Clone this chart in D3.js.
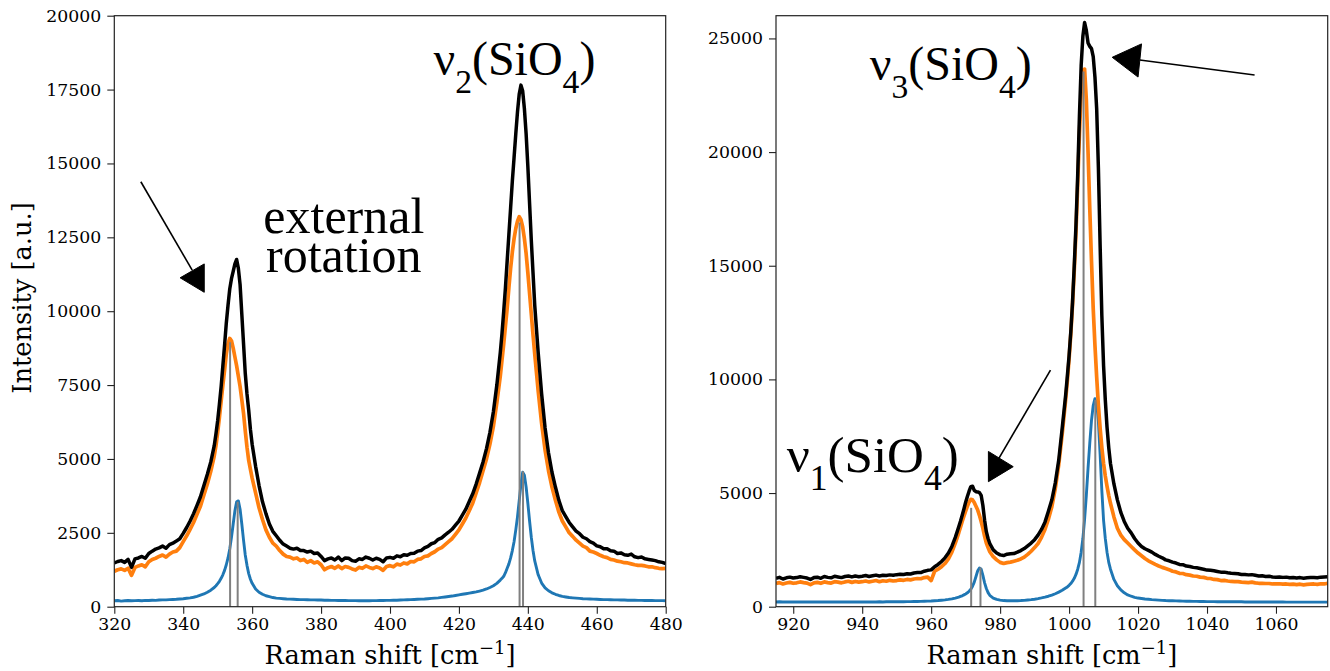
<!DOCTYPE html>
<html><head><meta charset="utf-8">
<script src="https://cdn.jsdelivr.net/npm/d3@7"></script>
<style>
html,body{margin:0;padding:0;background:#fff;}
svg{display:block;}
text{fill:#000;}
</style></head>
<body>
<svg id="chart" width="1330" height="671"></svg>
<script>
// ---------------- LEFT PANEL DATA (Raman shift cm^-1, intensity a.u.) ----------------
const leftX = [320,321,322,323,324,325,326,327,328,329,330,331,332,333,334,335,336,337,338,339,340,341,342,343,344,345,346,347,348,349,349.5,350,350.5,351,351.5,352,352.5,353,353.5,354,354.5,355,355.5,356,356.5,357,357.5,358,358.5,359,359.5,360,361,362,363,364,365,366,367,368,369,370,371,372,373,374,375,376,377,378,379,380,381,382,383,384,385,386,387,388,389,390,391,392,393,394,395,396,397,398,399,400,401,402,403,404,405,406,407,408,409,410,411,412,413,414,415,416,417,418,419,420,421,422,423,424,425,426,427,428,429,430,431,432,432.5,433,433.5,434,434.5,435,435.5,436,436.5,437,437.5,438,438.5,439,439.5,440,440.5,441,441.5,442,443,444,445,446,447,448,449,450,451,452,453,454,455,456,457,458,459,460,461,462,463,464,465,466,467,468,469,470,471,472,473,474,475,476,477,478,479,480];
const leftOrange = [1200,1250,1280,1230,1300,1060,1330,1380,1420,1350,1520,1600,1640,1700,1750,1680,1780,1850,1880,2000,2200,2400,2620,2850,3130,3400,3780,4150,4580,5100,5450,5900,6400,6950,7500,8000,8550,8900,9080,9000,8750,8450,8150,7800,7450,7000,6550,5950,5400,4950,4650,4350,3850,3350,2950,2600,2350,2150,2050,1900,1780,1700,1680,1620,1650,1560,1600,1500,1560,1480,1520,1420,1250,1320,1360,1300,1380,1290,1360,1330,1280,1240,1330,1300,1380,1330,1290,1350,1310,1230,1360,1390,1350,1440,1410,1480,1450,1530,1520,1600,1620,1700,1720,1800,1860,1950,2000,2100,2200,2300,2450,2600,2800,3000,3250,3500,3850,4200,4600,5000,5500,6100,6900,7800,8350,8900,9500,10100,10800,11450,12000,12450,12800,13050,13200,13100,12850,12450,11950,11300,10600,9900,9200,8550,7300,6200,5300,4600,4050,3600,3200,2900,2700,2500,2380,2250,2150,2050,2000,1880,1850,1800,1740,1690,1660,1600,1580,1540,1520,1490,1480,1450,1420,1400,1400,1380,1350,1350,1320,1300,1290,1300];
const leftBlack = [1480,1530,1560,1500,1600,1330,1620,1650,1700,1640,1800,1880,1950,1990,2050,1980,2100,2150,2220,2300,2480,2680,2900,3150,3430,3720,4100,4480,4900,5450,5850,6300,6850,7450,8150,8850,9600,10200,10750,11100,11350,11600,11750,11450,10900,9900,8900,7900,7200,6650,6000,5500,4750,4100,3550,3150,2800,2550,2400,2250,2120,2050,1980,1950,1980,1900,1900,1850,1880,1800,1820,1700,1560,1620,1650,1580,1680,1560,1650,1640,1560,1540,1620,1600,1680,1640,1580,1640,1600,1520,1650,1670,1640,1720,1690,1760,1740,1800,1810,1880,1900,1990,2040,2130,2170,2280,2330,2430,2520,2620,2760,2900,3100,3300,3560,3820,4150,4520,4900,5350,5900,6600,7500,8600,9250,10000,10800,11700,12600,13500,14400,15200,16000,16750,17350,17650,17450,16850,16000,14900,13650,12400,11300,10200,8600,7200,6050,5200,4550,4050,3600,3250,3050,2850,2700,2560,2470,2350,2300,2200,2150,2060,2030,1960,1960,1890,1880,1800,1820,1760,1740,1780,1690,1660,1680,1620,1600,1580,1560,1520,1500,1460];
const leftBlue = [200,210,190,200,210,200,205,210,200,215,210,220,215,225,230,230,240,245,250,260,270,285,300,320,350,390,430,490,560,650,710,780,860,960,1080,1230,1420,1650,1950,2350,2800,3250,3550,3580,3300,2800,2250,1750,1400,1120,930,790,600,490,420,370,340,310,290,280,270,260,255,250,245,240,240,235,230,230,225,225,220,220,215,215,210,210,210,205,205,205,200,200,205,200,205,205,210,210,215,215,220,220,225,230,235,240,245,250,255,260,270,280,290,300,315,330,345,360,380,400,420,440,460,480,500,530,560,600,650,710,790,900,960,1030,1150,1300,1450,1650,1900,2200,2600,3050,3600,4150,4550,4450,4050,3500,2900,2350,1900,1550,1080,800,640,540,470,420,380,350,330,310,300,290,280,270,265,260,255,250,245,240,240,235,230,230,225,225,220,220,220,215,215,210,210,210,205,205,205,200];
const leftPeakPos = [353.6, 355.8, 437.6, 438.6];
const leftPeakHeight = [8950, 3550, 13000, 4580];
const leftYTicks = [0,2500,5000,7500,10000,12500,15000,17500,20000];
const leftXTicks = [320,340,360,380,400,420,440,460,480];

// ---------------- RIGHT PANEL DATA ----------------
const rightX = [915,916,917,918,919,920,921,922,923,924,925,926,927,928,929,930,931,932,933,934,935,936,937,938,939,940,941,942,943,944,945,946,947,948,949,950,951,952,953,954,955,956,957,958,959,960,961,962,963,964,965,966,967,967.5,968,968.5,969,969.5,970,970.5,971,971.5,972,972.5,973,973.5,974,974.5,975,975.5,976,976.5,977,978,979,980,981,982,983,984,985,986,987,988,989,990,991,992,993,994,995,996,997,998,999,999.5,1000,1000.5,1001,1001.5,1002,1002.5,1003,1003.5,1004,1004.5,1005,1005.5,1006,1006.5,1007,1007.5,1008,1008.5,1009,1009.5,1010,1010.5,1011,1011.5,1012,1013,1014,1015,1016,1017,1018,1019,1020,1021,1022,1023,1024,1025,1026,1027,1028,1029,1030,1031,1032,1033,1034,1035,1036,1037,1038,1039,1040,1041,1042,1043,1044,1045,1046,1047,1048,1049,1050,1051,1052,1053,1054,1055,1056,1057,1058,1059,1060,1061,1062,1063,1064,1065,1066,1067,1068,1069,1070,1071,1072,1073,1074,1075];
const rightOrange = [1020,1060,1000,1040,1070,1030,1050,1090,1060,1040,970,1050,1070,1030,1090,1060,1040,1100,1080,1050,1090,1120,1070,1110,1080,1100,1130,1090,1120,1150,1100,1140,1120,1160,1130,1150,1180,1160,1200,1180,1220,1240,1230,1280,1300,1150,1560,1650,1760,1900,2100,2400,2800,3020,3250,3500,3750,3980,4200,4420,4600,4720,4700,4580,4420,4250,4020,3750,3450,3100,2800,2600,2420,2200,2060,1950,1900,1940,1960,2000,2040,2100,2180,2300,2440,2600,2780,3050,3400,3850,4400,5200,6250,7600,9100,9950,10900,12000,13300,14800,16500,18600,20800,22600,23600,23650,22300,20000,17500,15200,13100,11500,10100,8850,7850,7000,6300,5750,5300,4900,4550,3950,3450,3150,2950,2800,2650,2500,2360,2240,2120,2020,1940,1860,1790,1730,1680,1630,1560,1530,1470,1460,1410,1390,1350,1340,1300,1290,1250,1240,1200,1190,1150,1160,1130,1110,1100,1100,1080,1070,1060,1080,1050,1030,1030,1020,1020,1000,1000,1010,990,1000,980,990,970,990,960,980,990,1000,980,1010,1000,1030];
const rightBlack = [1250,1290,1220,1270,1300,1260,1280,1320,1290,1260,1200,1280,1300,1250,1330,1290,1270,1340,1310,1280,1330,1350,1310,1350,1320,1340,1370,1330,1360,1390,1350,1380,1370,1400,1380,1410,1430,1420,1450,1440,1480,1500,1500,1560,1600,1620,1760,1860,1990,2150,2360,2650,3050,3280,3520,3760,4020,4300,4600,4850,5080,5280,5300,5120,5060,5050,5020,4900,4450,3800,3300,3000,2780,2500,2360,2280,2250,2310,2330,2340,2400,2470,2560,2680,2800,2950,3150,3400,3720,4200,4700,5450,6450,7850,9300,10150,11050,12100,13400,15000,16800,19000,21600,23800,25100,25700,25350,24800,24650,24550,24200,23300,21900,19300,15900,12800,10600,9100,7900,7000,6300,5400,4700,4150,3750,3450,3250,3000,2800,2650,2550,2480,2400,2300,2220,2150,2060,2020,1960,1920,1860,1850,1790,1770,1730,1710,1680,1650,1610,1600,1580,1550,1520,1520,1490,1470,1460,1450,1420,1420,1400,1410,1380,1350,1360,1330,1340,1310,1300,1310,1290,1300,1270,1280,1260,1280,1250,1270,1280,1280,1270,1300,1310,1320];
const rightBlue = [210,215,210,205,210,210,205,210,205,210,205,210,205,210,205,205,210,205,210,205,210,205,210,210,205,210,210,205,210,210,215,210,215,215,215,220,220,220,225,225,230,230,235,240,245,250,260,270,285,300,320,345,380,400,420,450,480,520,560,610,680,770,900,1080,1330,1580,1700,1650,1380,1050,800,620,500,380,320,290,270,260,260,260,265,270,280,295,310,330,355,385,420,460,510,570,640,720,820,870,940,1020,1120,1250,1420,1650,1950,2400,3000,3850,4900,6100,7200,8200,8850,9150,8950,8150,6700,5100,3800,3000,2400,1950,1650,1200,920,740,610,520,460,410,380,360,340,325,310,300,290,280,270,265,260,255,250,245,240,240,235,235,230,230,225,225,225,220,220,220,220,215,215,215,215,210,210,210,210,210,210,205,205,205,205,205,205,200,200,200,200,200,200,200,200,200,200,200,200,200,200];
const rightPeakPos = [971.6, 974.3, 1004.2, 1007.6];
const rightPeakHeight = [4350, 1720, 23550, 9100];
const rightYTicks = [0,5000,10000,15000,20000,25000];
const rightXTicks = [920,940,960,980,1000,1020,1040,1060];

// ---------------- ANNOTATIONS (data coordinates) ----------------
const leftArrowLine = [[327.7,14380],[342.6,11390]];
const leftArrowHead = [[339.1,11130],[346.1,11600],[346.1,10640]];
const rightArrow1Line = [[1053.8,23390],[1020.5,24050]];
const rightArrow1Head = [[1012.5,24170],[1021.0,24760],[1020.0,23300]];
const rightArrow2Line = [[994.6,10410],[979.0,6360]];
const rightArrow2Head = [[976.6,6830],[976.6,5500],[983.8,6160]];

const COLORS = {orange:"#ff7f0e", blue:"#1f77b4", black:"#000000", gray:"#808080"};

const svg = d3.select("#chart");
const TICK_FONT = "'DejaVu Serif', serif";
const ANN_FONT = "'Liberation Serif', 'Times New Roman', serif";

function drawPanel(cfg){
  const x = d3.scaleLinear().domain(cfg.xDomain).range([cfg.left, cfg.right]);
  const y = d3.scaleLinear().domain(cfg.yDomain).range([cfg.bottom, cfg.top]);
  const g = svg.append("g");
  const clipId = "clip" + cfg.id;
  svg.append("clipPath").attr("id", clipId).append("rect")
    .attr("x", cfg.left).attr("y", cfg.top)
    .attr("width", cfg.right - cfg.left).attr("height", cfg.bottom - cfg.top);
  const plot = g.append("g").attr("clip-path", `url(#${clipId})`);

  const mk = (vals) => d3.line().x((d,i)=>x(cfg.xs[i])).y(d=>y(d))(vals);
  plot.append("path").attr("d", mk(cfg.blue)).attr("fill","none")
    .attr("stroke", COLORS.blue).attr("stroke-width", 2.9).attr("stroke-linejoin","round");
  plot.append("path").attr("d", mk(cfg.orange)).attr("fill","none")
    .attr("stroke", COLORS.orange).attr("stroke-width", 3.7).attr("stroke-linejoin","round");
  plot.append("path").attr("d", mk(cfg.black)).attr("fill","none")
    .attr("stroke", COLORS.black).attr("stroke-width", 3.5).attr("stroke-linejoin","round");
  plot.selectAll("line.pk").data(cfg.peakPos).enter().append("line")
    .attr("x1", d=>x(d)).attr("x2", d=>x(d))
    .attr("y1", y(0)).attr("y2", (d,i)=>y(cfg.peakHeight[i]))
    .attr("stroke", COLORS.gray).attr("stroke-width", 2);

  // axes
  const xAxis = d3.axisBottom(x).tickValues(cfg.xTicks).tickSize(7).tickPadding(4).tickFormat(d3.format("d"));
  const yAxis = d3.axisLeft(y).tickValues(cfg.yTicks).tickSize(7).tickPadding(6).tickFormat(d3.format("d"));
  const gx = g.append("g").attr("transform", `translate(0,${cfg.bottom})`).call(xAxis);
  const gy = g.append("g").attr("transform", `translate(${cfg.left},0)`).call(yAxis);
  [gx, gy].forEach(a => {
    a.select(".domain").remove();
    a.selectAll("line").attr("stroke","#222").attr("stroke-width",1.1);
    a.selectAll("text").attr("font-family", TICK_FONT).attr("font-size", 17.3).attr("fill","#111");
  });
  // frame
  g.append("rect").attr("x", cfg.left).attr("y", cfg.top)
    .attr("width", cfg.right-cfg.left).attr("height", cfg.bottom-cfg.top)
    .attr("fill","none").attr("stroke","#222").attr("stroke-width",1.2);

  // x label
  const xl = g.append("text").attr("x", (cfg.left+cfg.right)/2).attr("y", 664)
    .attr("text-anchor","middle").attr("font-family", TICK_FONT).attr("font-size", 25.7).attr("fill","#111");
  xl.append("tspan").text("Raman shift [cm");
  xl.append("tspan").attr("dy", -10).attr("font-size", 18).text("\u22121");
  xl.append("tspan").attr("dy", 10).text("]");

  // annotations
  cfg.arrows.forEach(a => {
    g.append("line").attr("x1", x(a.line[0][0])).attr("y1", y(a.line[0][1]))
      .attr("x2", x(a.line[1][0])).attr("y2", y(a.line[1][1]))
      .attr("stroke","#000").attr("stroke-width",1.6);
    g.append("polygon").attr("points", a.head.map(p => [x(p[0]), y(p[1])].join(",")).join(" "))
      .attr("fill","#000").attr("stroke","#000").attr("stroke-width",1);
  });
  cfg.labels.forEach(l => {
    const t = g.append("text").attr("x", x(l.x)).attr("y", y(l.y))
      .attr("font-family", ANN_FONT).attr("font-size", l.size).attr("fill","#000");
    t.append("tspan").text("\u03BD");
    t.append("tspan").attr("dy", 18).attr("font-size", l.size*0.7).text(l.sub);
    t.append("tspan").attr("dy", -18).text("(SiO");
    t.append("tspan").attr("dy", 18).attr("font-size", l.size*0.7).text("4");
    t.append("tspan").attr("dy", -18).text(")");
  });
  return {x, y, g};
}

const L = drawPanel({
  id:"L", left:114.3, right:665.7, top:15.7, bottom:606.7,
  xDomain:[320,480], yDomain:[0,20000], xs:leftX,
  orange:leftOrange, black:leftBlack, blue:leftBlue,
  peakPos:leftPeakPos, peakHeight:leftPeakHeight,
  xTicks:leftXTicks, yTicks:leftYTicks,
  arrows:[{line:leftArrowLine, head:leftArrowHead}],
  labels:[{x:412.6, y:17990, sub:"2", size:48}]
});
// "external rotation"
const er = L.g.append("text").attr("font-family", ANN_FONT).attr("font-size", 50)
  .attr("text-anchor","middle").attr("fill","#000");
er.append("tspan").attr("x", L.x(386.6)).attr("y", L.y(12650)).text("external");
er.append("tspan").attr("x", L.x(386.6)).attr("y", L.y(11330)).text("rotation");

// y label
svg.append("text").attr("transform", `translate(31,298) rotate(-90)`)
  .attr("text-anchor","middle").attr("font-family", TICK_FONT).attr("font-size", 25.7).attr("fill","#111")
  .text("Intensity [a.u.]");

drawPanel({
  id:"R", left:776, right:1327.7, top:15.7, bottom:606.7,
  xDomain:[915,1075], yDomain:[0,26000], xs:rightX,
  orange:rightOrange, black:rightBlack, blue:rightBlue,
  peakPos:rightPeakPos, peakHeight:rightPeakHeight,
  xTicks:rightXTicks, yTicks:rightYTicks,
  arrows:[{line:rightArrow1Line, head:rightArrow1Head},{line:rightArrow2Line, head:rightArrow2Head}],
  labels:[{x:942.2, y:23170, sub:"3", size:48},{x:918.1, y:5940, sub:"1", size:51}]
});
</script>
</body></html>
